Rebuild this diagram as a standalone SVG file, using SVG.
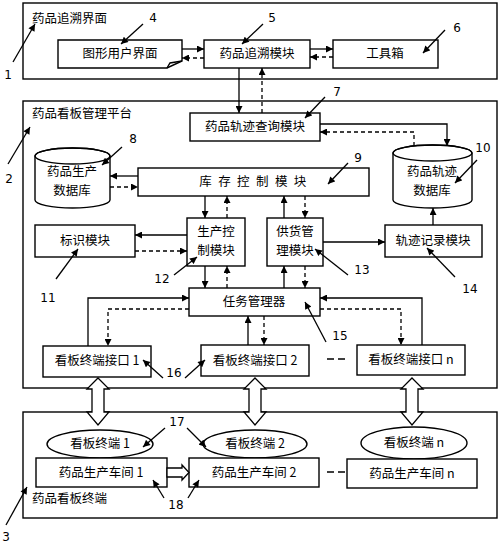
<svg xmlns="http://www.w3.org/2000/svg" width="500" height="544" viewBox="0 0 500 544">
<style>
.b{fill:#fff;stroke:#000;stroke-width:1.4}
.f{fill:none;stroke:#000;stroke-width:1.4}
.t{font-family:"Noto Sans CJK SC","Noto Sans",sans-serif;font-size:12.5px;fill:#000;text-anchor:middle}
.l{font-family:"Noto Sans CJK SC","Noto Sans",sans-serif;font-size:12.5px;fill:#000}
.n{font-family:"DejaVu Sans","Noto Sans",sans-serif;font-size:12px;fill:#000;text-anchor:middle}
.s{fill:none;stroke:#000;stroke-width:1.3;marker-end:url(#a)}
.d{fill:none;stroke:#000;stroke-width:1.3;stroke-dasharray:4,3;marker-end:url(#a)}
.k{fill:none;stroke:#000;stroke-width:1.3;marker-end:url(#a)}
.h{fill:#fff;stroke:#000;stroke-width:1.3}
</style>
<defs>
<marker id="a" viewBox="0 0 10 10" refX="10" refY="5" markerWidth="8" markerHeight="7" markerUnits="userSpaceOnUse" orient="auto"><path d="M0,0 L10,5 L0,10 Z" fill="#000"/></marker>
</defs>
<rect width="500" height="544" fill="#fff"/>

<g id="frame1"><rect class="f" x="23" y="3" width="474" height="76"/><text class="l" x="32" y="23">药品追溯界面</text></g>
<g id="frame2"><rect class="f" x="23" y="101" width="474" height="287"/><text class="l" x="32" y="118">药品看板管理平台</text></g>
<g id="frame3"><rect class="f" x="23" y="412" width="474" height="106"/><text class="l" x="32" y="503">药品看板终端</text></g>

<g id="gui"><path class="b" d="M58,40 H182 V61 L167,68 H58 Z"/><path class="f" d="M167,68 L170,63 L182,61"/><text class="t" x="120" y="58">图形用户界面</text></g>
<g id="trace"><rect class="b" x="204" y="40" width="106" height="28"/><text class="t" x="257" y="58">药品追溯模块</text></g>
<g id="toolbox"><rect class="b" x="333" y="40" width="105" height="28"/><text class="t" x="385" y="58">工具箱</text></g>
<g id="query"><rect class="b" x="190" y="113" width="130" height="28"/><text class="t" x="255" y="131">药品轨迹查询模块</text></g>
<g id="proddb"><path class="b" d="M35,156 A37.5,8 0 0 1 110,156 V200 A37.5,8 0 0 1 35,200 Z"/><ellipse class="f" cx="72.5" cy="156" rx="37.5" ry="8"/><text class="t" x="72" y="176">药品生产</text><text class="t" x="72" y="195">数据库</text></g>
<g id="tracedb"><path class="b" d="M393,153 A39.5,8 0 0 1 472,153 V200 A39.5,8 0 0 1 393,200 Z"/><ellipse class="f" cx="432.5" cy="153" rx="39.5" ry="8"/><text class="t" x="432" y="176">药品轨迹</text><text class="t" x="432" y="195">数据库</text></g>
<g id="stock"><rect class="b" x="138" y="168" width="231" height="28"/><text class="t" x="256" y="186" letter-spacing="6.4">库存控制模块</text></g>
<g id="prodctl"><rect class="b" x="187" y="218" width="58" height="48"/><text class="t" x="216" y="236">生产控</text><text class="t" x="216" y="255">制模块</text></g>
<g id="supply"><rect class="b" x="267" y="218" width="56" height="48"/><text class="t" x="295" y="236">供货管</text><text class="t" x="295" y="255">理模块</text></g>
<g id="ident"><rect class="b" x="35" y="225" width="100" height="32"/><text class="t" x="85" y="245">标识模块</text></g>
<g id="record"><rect class="b" x="385" y="225" width="97" height="32"/><text class="t" x="433" y="245">轨迹记录模块</text></g>
<g id="task"><rect class="b" x="189" y="288" width="131" height="28"/><text class="t" x="254" y="306">任务管理器</text></g>
<g id="if1"><rect class="b" x="43" y="346" width="108" height="31"/><text class="t" x="97" y="365">看板终端接口 1</text></g>
<g id="if2"><rect class="b" x="201" y="345" width="108" height="31"/><text class="t" x="255" y="365">看板终端接口 2</text></g>
<g id="ifn"><rect class="b" x="357" y="345" width="108" height="30"/><text class="t" x="411" y="364">看板终端接口 n</text></g>
<g id="term1"><ellipse class="b" cx="100" cy="444" rx="53" ry="14"/><text class="t" x="100" y="448">看板终端 1</text></g>
<g id="term2"><ellipse class="b" cx="255" cy="444" rx="52" ry="14"/><text class="t" x="255" y="448">看板终端 2</text></g>
<g id="termn"><ellipse class="b" cx="414" cy="443" rx="53" ry="16"/><text class="t" x="414" y="447">看板终端 n</text></g>
<g id="ws1"><rect class="b" x="36" y="458" width="131" height="29"/><text class="t" x="101" y="477">药品生产车间 1</text></g>
<g id="ws2"><rect class="b" x="189" y="458" width="130" height="29"/><text class="t" x="254" y="477">药品生产车间 2</text></g>
<g id="wsn"><rect class="b" x="347" y="459" width="130" height="29"/><text class="t" x="412" y="478">药品生产车间 n</text></g>

<g id="connectors">
<path class="s" d="M182,49 H204"/>
<path class="d" d="M204,58 H182"/>
<path class="s" d="M310,49 H333"/>
<path class="d" d="M333,57 H310"/>
<path class="s" d="M239,68 V113"/>
<path class="d" d="M262,113 V68"/>
<path class="s" d="M320,124 H447 V146"/>
<path class="d" d="M414,146 V132 H320"/>
<path class="s" d="M138,176 H110"/>
<path class="d" d="M110,187 H138"/>
<path class="s" d="M205,196 V218"/>
<path class="d" d="M227,218 V196"/>
<path class="s" d="M284,218 V196"/>
<path class="d" d="M305,196 V218"/>
<path class="s" d="M187,235 H135"/>
<path class="d" d="M135,251 H187"/>
<path class="s" d="M323,242 H385"/>
<path class="s" d="M433,225 V208"/>
<path class="s" d="M205,266 V288"/>
<path class="d" d="M227,288 V266"/>
<path class="s" d="M284,288 V266"/>
<path class="d" d="M305,266 V288"/>
<path class="s" d="M88,346 V298 H189"/>
<path class="d" d="M189,309 H108 V346"/>
<path class="s" d="M248,345 V316"/>
<path class="d" d="M264,316 V345"/>
<path class="s" d="M422,345 V298 H320"/>
<path class="d" d="M320,309 H401 V345"/>
<path d="M327,359 H347" stroke="#000" stroke-width="1.6" stroke-dasharray="7,4" fill="none"/>
<path d="M327,472 H347" stroke="#000" stroke-width="1.6" stroke-dasharray="7,4" fill="none"/>
<path class="h" d="M98,378 L109,389 L104,389 L104,412 L109,412 L98,425 L87,412 L92,412 L92,389 L87,389 Z"/>
<path class="h" d="M255,378 L266,389 L261,389 L261,412 L266,412 L255,425 L244,412 L249,412 L249,389 L244,389 Z"/>
<path class="h" d="M412,378 L423,389 L418,389 L418,412 L423,412 L412,425 L401,412 L406,412 L406,389 L401,389 Z"/>
<path class="h" d="M167,468 H182 V465 L189,472.5 L182,480 V477 H167 Z"/>
</g>

<g id="labels">
<text class="n" x="8" y="79">1</text><path class="k" d="M13,62 L35,24"/>
<text class="n" x="9" y="183">2</text><path class="k" d="M8,164 L30,127"/>
<text class="n" x="6" y="541">3</text><path class="k" d="M6,525 L27,487"/>
<text class="n" x="153" y="22">4</text><path class="k" d="M143,24 L121,44"/>
<text class="n" x="272" y="22">5</text><path class="k" d="M263,24 L242,44"/>
<text class="n" x="457" y="32">6</text><path class="k" d="M445,30 L423,53"/>
<text class="n" x="337" y="96">7</text><path class="k" d="M325,97 L305,118"/>
<text class="n" x="133" y="143">8</text><path class="k" d="M122,147 L102,165"/>
<text class="n" x="358" y="162">9</text><path class="k" d="M348,163 L328,184"/>
<text class="n" x="483" y="152">10</text><path class="k" d="M477,160 L455,183"/>
<text class="n" x="48" y="302">11</text><path class="k" d="M56,279 L78,249"/>
<text class="n" x="162" y="283">12</text><path class="k" d="M174,275 L197,257"/>
<text class="n" x="362" y="274">13</text><path class="k" d="M348,275 L315,249"/>
<text class="n" x="470" y="293">14</text><path class="k" d="M455,277 L427,248"/>
<text class="n" x="340" y="340">15</text><path class="k" d="M326,342 L305,302"/>
<text class="n" x="174" y="377">16</text><path class="k" d="M163,378 L143,360"/><path class="k" d="M185,378 L205,360"/>
<text class="n" x="177" y="426">17</text><path class="k" d="M165,428 L143,447"/><path class="k" d="M187,428 L206,447"/>
<text class="n" x="176" y="509">18</text><path class="k" d="M164,498 L153,480"/><path class="k" d="M188,498 L199,480"/>
</g>
</svg>
